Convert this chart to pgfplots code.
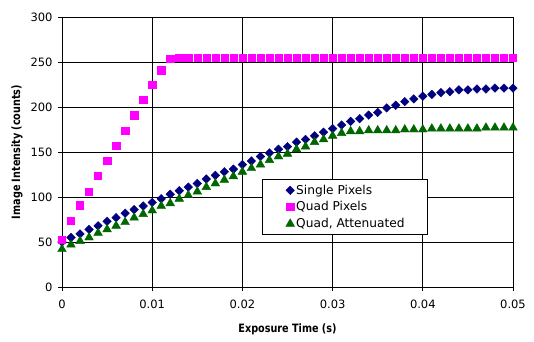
\documentclass[border=0pt]{standalone}
\usepackage{pgfplots}
\pgfplotsset{compat=1.18}
\usepackage{pgfplotstable}
\usepackage{fontspec}
\setmainfont{DejaVu Sans}
\newfontfamily\labelfont{DejaVu Sans}[FakeStretch=0.84]
\definecolor{snavy}{RGB}{0,0,128}
\definecolor{qmag}{RGB}{255,0,255}
\definecolor{agreen}{RGB}{0,102,0}
\pgfplotstableread{
x s q a
0 50 53 42
0.001 55 74 47
0.002 59 91 51
0.003 64 106 55
0.004 68 124 60
0.005 73 140 64
0.006 77 157 68
0.007 82 174 72
0.008 86 191 77
0.009 90 208 81
0.010 94 225 85
0.011 98 241 90
0.012 103 254 93
0.013 107 255 98
0.014 111 255 102
0.015 115 255 106
0.016 120 255 111
0.017 124 255 115
0.018 128 255 119
0.019 131 255 123
0.020 136 255 128
0.021 140 255 132
0.022 145 255 136
0.023 149 255 141
0.024 153 255 145
0.025 156 255 148
0.026 161 255 153
0.027 164 255 156
0.028 168 255 161
0.029 172 255 164
0.030 176 255 168
0.031 180 255 171
0.032 184 255 173
0.033 187 255 173
0.034 191 255 174
0.035 194 255 174
0.036 199 255 174
0.037 202 255 174
0.038 206 255 175
0.039 209 255 175
0.040 212 255 175
0.041 214 255 176
0.042 216 255 176
0.043 217 255 176
0.044 219 255 176
0.045 219 255 176
0.046 220 255 176
0.047 220 255 177
0.048 221 255 177
0.049 221 255 177
0.050 221 255 177
}\datatable
\begin{document}
\begin{tikzpicture}
\useasboundingbox (-62bp,-55bp) rectangle (472bp,287bp);
\begin{axis}[
  scale only axis,
  width=451bp, height=270bp,
  xmin=0, xmax=0.05, ymin=0, ymax=300,
  xtick={0,0.01,0.02,0.03,0.04,0.05},
  xticklabels={0,0.01,0.02,0.03,0.04,0.05},
  ytick={0,50,100,150,200,250,300},
  scaled x ticks=false,
  /pgf/number format/assume math mode=true,
  tick label style={font=\fontsize{11.5bp}{13bp}\selectfont},
  xticklabel style={yshift=-5bp},
  yticklabel style={xshift=-2bp},
  tick align=outside,
  major tick length=4bp,
  xtick pos=bottom, ytick pos=left,
  xmajorgrids, ymajorgrids,
  grid style={black, line width=0.8bp},
  major grid style={black, line width=0.8bp},
  axis line style={black, line width=0.8bp},
  xtick style={black, line width=0.8bp},
  ytick style={black, line width=0.8bp},
  xlabel={\textbf{Exposure Time (s)}},
  ylabel={\textbf{Image Intensity (counts)}},
  label style={font=\labelfont\fontsize{11.5bp}{13bp}\selectfont},
  xlabel style={yshift=-9bp},
  ylabel style={yshift=1bp},
  legend style={at={(0.443,0.4)}, anchor=north west, draw=black, line width=0.8bp, fill=white,
    font=\fontsize{12.2bp}{14bp}\selectfont, inner xsep=0bp, inner ysep=2.5bp,
    row sep=0bp, nodes={inner xsep=0bp, inner ysep=3bp}},
  legend cell align=left,
  legend image code/.code={\path[draw=none,fill=none] (0bp,0bp) -- (34bp,0bp); \draw[#1, line width=0.4bp] plot coordinates {(28bp,0bp)};},
]
\addplot[only marks, mark=diamond*, mark size=4.3bp, color=snavy, mark options={fill=snavy, draw=snavy, line width=0.4bp, xscale=1.33}] table[x=x,y=s]{\datatable};
\addlegendentry{Single Pixels}
\addplot[only marks, mark=square*, mark size=3.6bp, color=qmag, mark options={fill=qmag, draw=qmag, line width=0.4bp}] table[x=x,y=q]{\datatable};
\addlegendentry{Quad Pixels}
\addplot[only marks, mark=triangle*, mark size=5bp, color=agreen, mark options={fill=agreen, draw=agreen, line width=0.4bp}] table[x=x,y=a]{\datatable};
\addlegendentry{\makebox[131bp][l]{Quad, Attenuated}}
\end{axis}
\end{tikzpicture}
\end{document}
